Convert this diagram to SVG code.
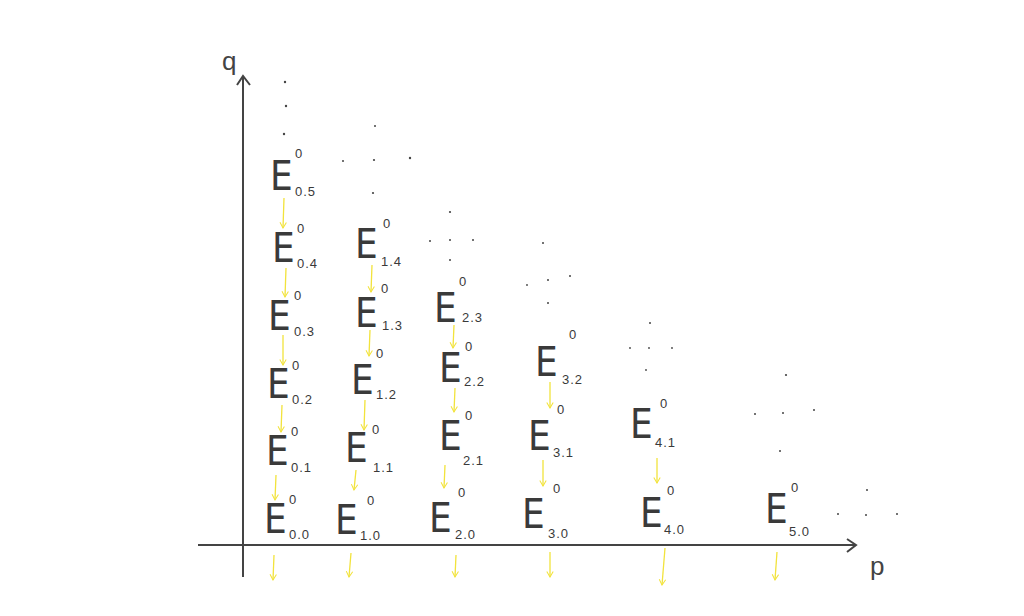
<svg xmlns="http://www.w3.org/2000/svg" width="1024" height="616" viewBox="0 0 1024 616">
<style>
.e{font-family:"Liberation Sans Narrow","DejaVu Sans Condensed","Liberation Sans",sans-serif;font-size:40px;fill:#3a3a3a}
.s{font-family:"Liberation Sans",Arial,sans-serif;font-size:13px;fill:#3a3a3a;letter-spacing:1px}
.ax{stroke:#444;stroke-width:2;fill:none}
.y{stroke:#f2e33c;stroke-width:1.3;fill:none;marker-end:url(#h)}
.d{fill:#444}
.lbl{font-family:"Liberation Sans",Arial,sans-serif;font-size:26px;fill:#444}
</style>
<defs>
<marker id="h" viewBox="0 0 10 10" refX="9" refY="5" markerWidth="8" markerHeight="8" markerUnits="userSpaceOnUse" orient="auto">
<path d="M2,1 L9,5 L2,9" fill="none" stroke="#f2e33c" stroke-width="1.3"/>
</marker>
</defs>
<rect width="1024" height="616" fill="#fff"/>
<g id="axes">
<line class="ax" x1="243" y1="76" x2="243" y2="577"/>
<polyline class="ax" points="237,85 243,76 250,85"/>
<line class="ax" x1="198" y1="545" x2="855" y2="545"/>
<polyline class="ax" points="847,539 856,545 847,552"/>
<text class="lbl" x="222" y="70">q</text>
<text class="lbl" x="870" y="575">p</text>
</g>
<g id="connectors">
<line class="y" x1="284" y1="198" x2="283" y2="228"/>
<line class="y" x1="286" y1="268" x2="285" y2="297"/>
<line class="y" x1="283" y1="335" x2="283" y2="365"/>
<line class="y" x1="282" y1="405" x2="281" y2="432"/>
<line class="y" x1="276" y1="475" x2="275" y2="500"/>
<line class="y" x1="274" y1="555" x2="273" y2="580"/>
<line class="y" x1="372" y1="265" x2="371" y2="292"/>
<line class="y" x1="370" y1="330" x2="369" y2="356"/>
<line class="y" x1="365" y1="400" x2="364" y2="430"/>
<line class="y" x1="356" y1="470" x2="354" y2="490"/>
<line class="y" x1="351" y1="553" x2="349" y2="577"/>
<line class="y" x1="454" y1="325" x2="453" y2="348"/>
<line class="y" x1="455" y1="388" x2="454" y2="412"/>
<line class="y" x1="445" y1="465" x2="444" y2="488"/>
<line class="y" x1="456" y1="555" x2="455" y2="577"/>
<line class="y" x1="550" y1="382" x2="550" y2="408"/>
<line class="y" x1="543" y1="460" x2="543" y2="486"/>
<line class="y" x1="550" y1="552" x2="550" y2="577"/>
<line class="y" x1="657" y1="458" x2="657" y2="483"/>
<line class="y" x1="665" y1="548" x2="662" y2="585"/>
<line class="y" x1="777" y1="552" x2="775" y2="580"/>
</g>
<g id="E05"><text class="e" x="270" y="190">E</text><text class="s" x="295" y="158">0</text><text class="s" x="295" y="196">0.5</text></g>
<g id="E04"><text class="e" x="272" y="262">E</text><text class="s" x="297" y="233">0</text><text class="s" x="297" y="268">0.4</text></g>
<g id="E03"><text class="e" x="268" y="330">E</text><text class="s" x="294" y="300">0</text><text class="s" x="294" y="336">0.3</text></g>
<g id="E02"><text class="e" x="267" y="398">E</text><text class="s" x="292" y="370">0</text><text class="s" x="292" y="404">0.2</text></g>
<g id="E01"><text class="e" x="266" y="465">E</text><text class="s" x="291" y="436">0</text><text class="s" x="291" y="472">0.1</text></g>
<g id="E00"><text class="e" x="264" y="533">E</text><text class="s" x="289" y="504">0</text><text class="s" x="289" y="539">0.0</text></g>
<g id="E14"><text class="e" x="355" y="258">E</text><text class="s" x="383" y="228">0</text><text class="s" x="381" y="266">1.4</text></g>
<g id="E13"><text class="e" x="355" y="327">E</text><text class="s" x="381" y="293">0</text><text class="s" x="382" y="330">1.3</text></g>
<g id="E12"><text class="e" x="351" y="394">E</text><text class="s" x="376" y="358">0</text><text class="s" x="376" y="399">1.2</text></g>
<g id="E11"><text class="e" x="345" y="462">E</text><text class="s" x="372" y="434">0</text><text class="s" x="373" y="472">1.1</text></g>
<g id="E10"><text class="e" x="335" y="534">E</text><text class="s" x="367" y="505">0</text><text class="s" x="360" y="540">1.0</text></g>
<g id="E23"><text class="e" x="434" y="322">E</text><text class="s" x="459" y="286">0</text><text class="s" x="462" y="322">2.3</text></g>
<g id="E22"><text class="e" x="439" y="382">E</text><text class="s" x="465" y="351">0</text><text class="s" x="464" y="386">2.2</text></g>
<g id="E21"><text class="e" x="439" y="450">E</text><text class="s" x="465" y="420">0</text><text class="s" x="463" y="465">2.1</text></g>
<g id="E20"><text class="e" x="429" y="532">E</text><text class="s" x="458" y="497">0</text><text class="s" x="455" y="539">2.0</text></g>
<g id="E32"><text class="e" x="535" y="376">E</text><text class="s" x="569" y="339">0</text><text class="s" x="562" y="384">3.2</text></g>
<g id="E31"><text class="e" x="528" y="450">E</text><text class="s" x="557" y="414">0</text><text class="s" x="553" y="457">3.1</text></g>
<g id="E30"><text class="e" x="522" y="528">E</text><text class="s" x="553" y="493">0</text><text class="s" x="548" y="538">3.0</text></g>
<g id="E41"><text class="e" x="630" y="438">E</text><text class="s" x="660" y="408">0</text><text class="s" x="655" y="447">4.1</text></g>
<g id="E40"><text class="e" x="640" y="527">E</text><text class="s" x="667" y="495">0</text><text class="s" x="664" y="534">4.0</text></g>
<g id="E50"><text class="e" x="765" y="523">E</text><text class="s" x="791" y="492">0</text><text class="s" x="789" y="536">5.0</text></g>
<g id="dots">
<circle class="d" cx="285" cy="82" r="1.2"/><circle class="d" cx="286" cy="106" r="1.2"/><circle class="d" cx="284" cy="134" r="1.2"/>
<circle class="d" cx="375" cy="126" r="1"/><circle class="d" cx="343" cy="161" r="1"/><circle class="d" cx="374" cy="160" r="1.1"/><circle class="d" cx="410" cy="158" r="1.2"/><circle class="d" cx="373" cy="193" r="1.1"/>
<circle class="d" cx="450" cy="212" r="1.1"/><circle class="d" cx="430" cy="241" r="1"/><circle class="d" cx="450" cy="240" r="1"/><circle class="d" cx="473" cy="240" r="1"/><circle class="d" cx="450" cy="260" r="1"/>
<circle class="d" cx="543" cy="243" r="1"/><circle class="d" cx="527" cy="285" r="0.9"/><circle class="d" cx="548" cy="280" r="1"/><circle class="d" cx="570" cy="276" r="1"/><circle class="d" cx="548" cy="303" r="1"/>
<circle class="d" cx="650" cy="323" r="1"/><circle class="d" cx="630" cy="348" r="0.9"/><circle class="d" cx="649" cy="348" r="0.9"/><circle class="d" cx="672" cy="348" r="0.9"/><circle class="d" cx="646" cy="370" r="0.9"/>
<circle class="d" cx="786" cy="375" r="1.1"/><circle class="d" cx="755" cy="414" r="1"/><circle class="d" cx="783" cy="413" r="1"/><circle class="d" cx="814" cy="410" r="1"/><circle class="d" cx="780" cy="451" r="1"/>
<circle class="d" cx="867" cy="490" r="1"/><circle class="d" cx="838" cy="514" r="1"/><circle class="d" cx="866" cy="515" r="1"/><circle class="d" cx="897" cy="514" r="1"/>
</g>
</svg>
